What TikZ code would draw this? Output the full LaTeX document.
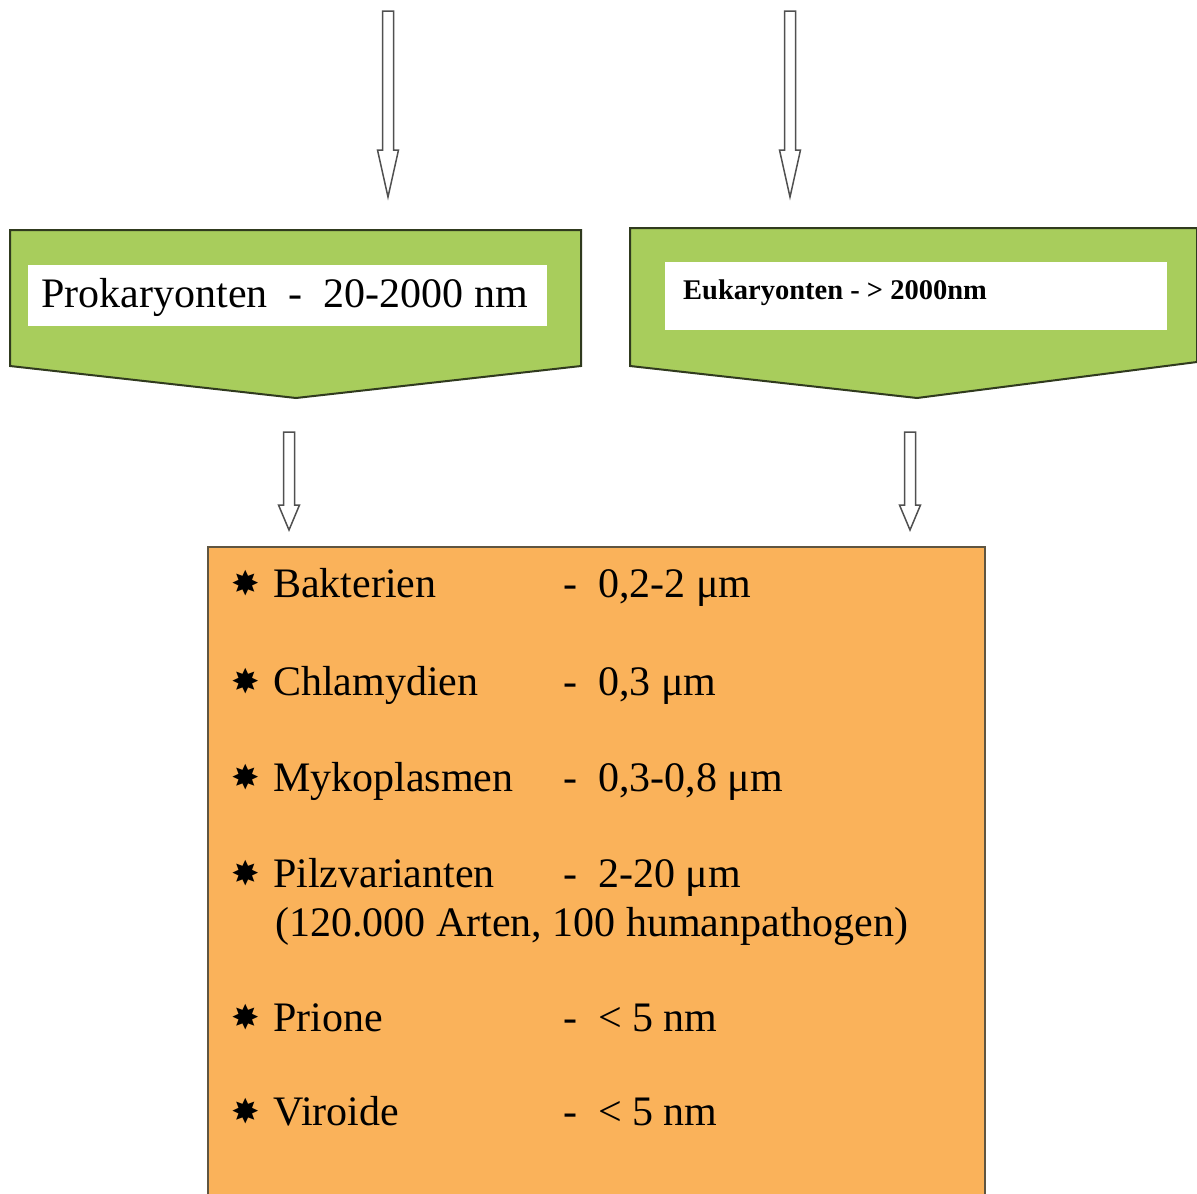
\documentclass[tikz,border=0pt]{standalone}
\usepackage{fontspec}
\setmainfont{Liberation Serif}
\newfontfamily\symfont{DejaVu Sans}
\usetikzlibrary{calc}
\definecolor{grn}{RGB}{168,205,92}
\definecolor{grnline}{RGB}{48,58,30}
\definecolor{org}{RGB}{250,178,90}
\definecolor{orgline}{RGB}{95,85,65}
\definecolor{arrline}{RGB}{80,80,80}
\newcommand\hollowarr[3]{%
  \path[arrowshape] let \p1=(#1), \p2=(#2) in
    (\x1-5.5pt,\y1) -- (\x1+5.5pt,\y1) -- (\x1+5.5pt,\y2+#3) -- (\x1+10.5pt,\y2+#3)
    -- (\x1,\y2) -- (\x1-10.5pt,\y2+#3) -- (\x1-5.5pt,\y2+#3) -- cycle;}
\begin{document}
\begin{tikzpicture}[x=1pt,y=-1pt,
  greenshape/.style={fill=grn,draw=grnline,line width=2pt,line join=miter},
  whitebox/.style={fill=white,draw=none,inner sep=0pt},
  arrowshape/.style={draw=arrline,fill=white,line width=1.5pt,line join=miter},
  listtext/.style={font=\fontsize{42}{48}\selectfont,inner sep=0pt,anchor=base west},
  starmark/.style={font=\symfont\fontsize{34}{40}\selectfont,inner sep=0pt,anchor=center}]
\useasboundingbox (0,0) rectangle (1197,1194);
\fill[white] (0,0) rectangle (1197,1194);

% top arrows
\coordinate (a1s) at (388,11);
\coordinate (a1e) at (388,197);
\coordinate (a2s) at (790,11);
\coordinate (a2e) at (790,197);
\hollowarr{a1s}{a1e}{47pt}
\hollowarr{a2s}{a2e}{47pt}

% green pentagon shapes
\draw[greenshape] (10,230) -- (581,230) -- (581,366) -- (296,398) -- (10,366) -- cycle;
\draw[greenshape] (630,228) -- (1197,228) -- (1197,362) -- (917,398) -- (630,366) -- cycle;

\node[whitebox,minimum width=519pt,minimum height=61pt,anchor=north west] (pbox) at (28,265) {};
\node[inner sep=0pt,font=\fontsize{42}{48}\selectfont] (ptext) at ($(pbox.center)+(-3,2)$) {Prokaryonten\ \ -\ \ 20-2000 nm};

\node[whitebox,minimum width=502pt,minimum height=68pt,anchor=north west] (ebox) at (665,262) {};
\node[inner sep=0pt,anchor=base west,font=\bfseries\fontsize{28.5}{32}\selectfont] (etext) at (683,299) {Eukaryonten - > 2000nm};

% middle arrows
\coordinate (b1s) at (289,432);
\coordinate (b1e) at (289,530);
\coordinate (b2s) at (910,432);
\coordinate (b2e) at (910,530);
\hollowarr{b1s}{b1e}{25pt}
\hollowarr{b2s}{b2e}{25pt}

% orange box
\draw[fill=org,draw=orgline,line width=1.5pt] (208,547) rectangle (985,1215);

% list
\foreach \n/\lab/\val/\yy in {
  1/Bakterien/{-\ \ 0,2-2 μm}/597,
  2/Chlamydien/{-\ \ 0,3 μm}/695,
  3/Mykoplasmen/{-\ \ 0,3-0,8 μm}/791,
  4/Pilzvarianten/{-\ \ 2-20 μm}/887,
  5/Prione/{-\ \ < 5 nm}/1031,
  6/Viroide/{-\ \ < 5 nm}/1125}{
  \node[starmark] (s\n) at (246,\yy-14) {✸};
  \node[listtext] (l\n) at (273,\yy) {\lab};
  \node[listtext] (v\n) at (563,\yy) {\val};
}
\node[listtext] (l4b) at (275,936) {(120.000 Arten, 100 humanpathogen)};
\end{tikzpicture}
\end{document}
